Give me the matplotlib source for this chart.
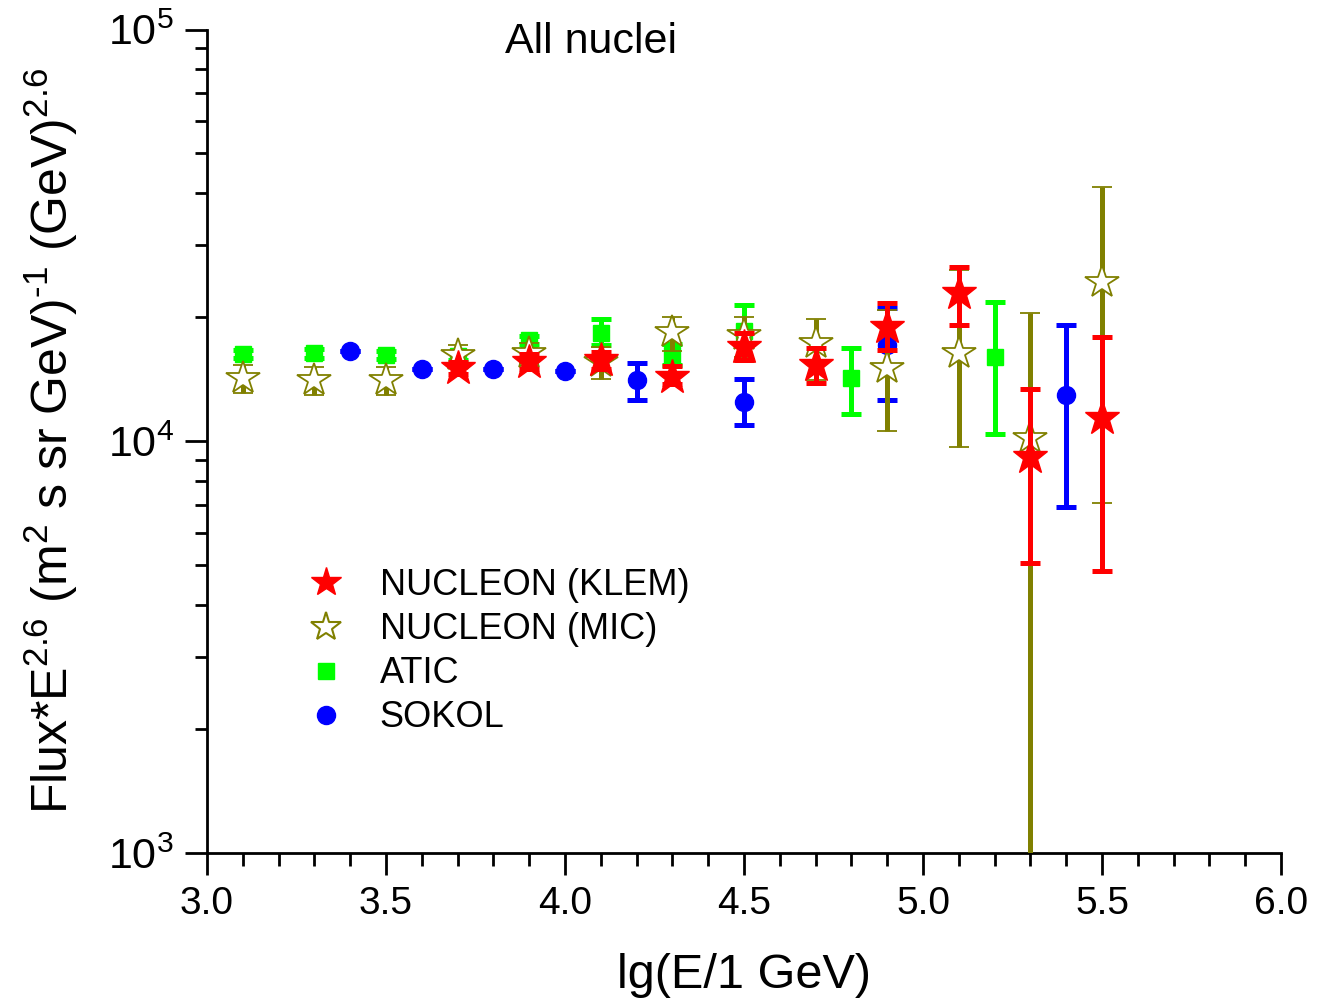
import numpy as np
import matplotlib
matplotlib.use("Agg")
import matplotlib.pyplot as plt
from matplotlib.lines import Line2D
from matplotlib.ticker import FixedLocator, FixedFormatter, MultipleLocator, LogLocator, NullFormatter

plt.rcParams['font.family'] = ['Liberation Sans', 'DejaVu Sans']
plt.rcParams['mathtext.fontset'] = 'custom'
plt.rcParams['mathtext.rm'] = 'Liberation Sans'
plt.rcParams['mathtext.it'] = 'Liberation Sans'

# NUCLEON (KLEM)
klem_x = [3.7, 3.9, 4.1, 4.3, 4.5, 4.7, 4.9, 5.1, 5.3, 5.5]
klem_y = [15060, 15580, 15750, 14350, 16970, 15320, 18980, 22880, 9170, 11370]
klem_hi = [15600, 16300, 16500, 15240, 18320, 16850, 21640, 26540, 13360, 17950]
klem_lo = [14550, 15000, 15000, 13780, 15750, 13830, 16660, 19160, 5070, 4850]

# NUCLEON (MIC)
mic_x = [3.1, 3.3, 3.5, 3.7, 3.9, 4.1, 4.3, 4.5, 4.7, 4.9, 5.1, 5.3, 5.5]
mic_y = [14240, 14090, 14090, 16200, 16380, 15570, 18460, 18120, 17300, 15040, 16350, 10170, 24410]
mic_hi = [15320, 15150, 15150, 17130, 17320, 16970, 20020, 20070, 19860, 20800, 26050, 20520, 41520]
mic_lo = [13100, 12950, 12950, 15320, 15490, 14170, 16550, 16000, 14090, 10600, 9700, 800, 7090]

# ATIC
atic_x = [3.1, 3.3, 3.5, 3.7, 3.9, 4.1, 4.3, 4.5, 4.8, 5.2]
atic_y = [16290, 16350, 16200, 16120, 17620, 18320, 16200, 18530, 14220, 16040]
atic_hi = [16700, 16750, 16600, 16500, 18000, 19770, 17220, 21420, 16820, 21830]
atic_lo = [15900, 15950, 15800, 15750, 17250, 17130, 15320, 15750, 11660, 10410]

# SOKOL
sokol_x = [3.4, 3.6, 3.8, 4.0, 4.2, 4.5, 4.9, 5.4]
sokol_y = [16570, 14950, 14950, 14830, 14090, 12480, 17130, 12950]
sokol_hi = [16570, 14950, 14950, 14830, 15460, 14170, 21060, 19160]
sokol_lo = [16570, 14950, 14950, 14830, 12600, 10950, 12600, 6930]

fig = plt.figure(figsize=(13.17, 10.05), dpi=100)
ax = fig.add_axes([0.1572, 0.1512, 0.8155, 0.8194])


def yerr(y, lo, hi):
    y = np.array(y, float)
    return [y - np.array(lo, float), np.array(hi, float) - y]


eb = dict(elinewidth=3.6, capsize=7, capthick=3.6, linestyle='none')

ax.errorbar(sokol_x, sokol_y, yerr=yerr(sokol_y, sokol_lo, sokol_hi), color='#0000ff',
            marker='o', ms=13, zorder=2, **eb)
ax.errorbar(atic_x, atic_y, yerr=yerr(atic_y, atic_lo, atic_hi), color='#00ff00',
            marker='s', ms=11, zorder=3, **eb)
ax.errorbar(mic_x, mic_y, yerr=yerr(mic_y, mic_lo, mic_hi), color='#808000',
            marker='*', ms=25, mfc='white', mec='#808000', mew=1.3, zorder=4, **eb)
ax.errorbar(klem_x, klem_y, yerr=yerr(klem_y, klem_lo, klem_hi), color='#ff0000',
            marker='*', ms=26, zorder=5, **eb)

ax.set_yscale('log')
ax.set_xlim(3.0, 6.0)
ax.set_ylim(1e3, 1e5)

ax.xaxis.set_major_locator(MultipleLocator(0.5))
ax.xaxis.set_minor_locator(MultipleLocator(0.1))
ax.xaxis.set_major_formatter(plt.FuncFormatter(lambda v, p: '%.1f' % v))
ax.yaxis.set_major_locator(FixedLocator([1e3, 1e4, 1e5]))
ax.yaxis.set_major_formatter(FixedFormatter([r'$\mathregular{10^{3}}$', r'$\mathregular{10^{4}}$',
                                             r'$\mathregular{10^{5}}$']))
ax.yaxis.set_minor_locator(LogLocator(base=10, subs=np.arange(2, 10)))
ax.yaxis.set_minor_formatter(NullFormatter())

for s in ['top', 'right']:
    ax.spines[s].set_visible(False)
for s in ['left', 'bottom']:
    ax.spines[s].set_linewidth(2)
ax.tick_params(which='major', direction='out', length=16, width=2, labelsize=28, pad=8)
ax.tick_params(axis='y', which='major', labelsize=31, pad=8)
ax.tick_params(which='minor', direction='out', length=9, width=2)

ax.set_xlabel('lg(E/1 GeV)', fontsize=35, labelpad=22)
ax.set_ylabel('Flux*E$^{2.6}$ (m$^{2}$ s sr GeV)$^{\u2010 1}$ (GeV)$^{2.6}$', fontsize=36)
ax.yaxis.set_label_coords(-0.118, 0.5)

ax.text(0.3575, 0.985, 'All nuclei', transform=ax.transAxes, fontsize=31,
        ha='center', va='center')

handles = [
    Line2D([], [], ls='none', marker='*', ms=22, color='#ff0000'),
    Line2D([], [], ls='none', marker='*', ms=22, mfc='white', mec='#808000', mew=1.5),
    Line2D([], [], ls='none', marker='s', ms=12, color='#00ff00'),
    Line2D([], [], ls='none', marker='o', ms=13, color='#0000ff'),
]
labels = ['NUCLEON (KLEM)', 'NUCLEON (MIC)', 'ATIC', 'SOKOL']
ax.legend(handles, labels, loc='upper left', bbox_to_anchor=(0.0852, 0.346), frameon=False,
          fontsize=26, borderpad=0, borderaxespad=0, handlelength=1.5, handletextpad=0.75,
          labelspacing=0.25)

fig.savefig('out.png', dpi=100)
